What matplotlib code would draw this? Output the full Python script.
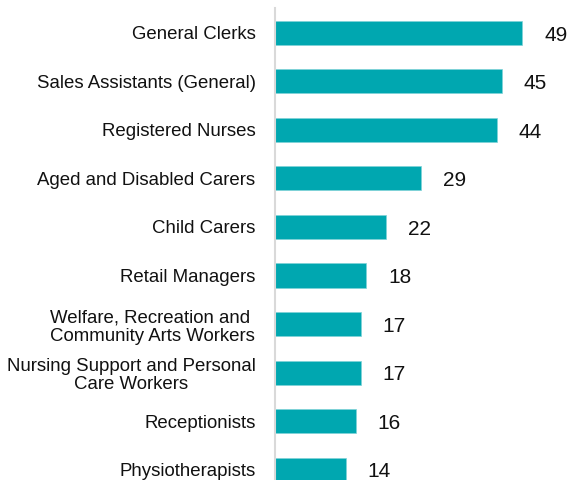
import numpy as np
import matplotlib
matplotlib.use('Agg')
import matplotlib.pyplot as plt

plt.rcParams['font.family'] = ['Liberation Sans', 'DejaVu Sans']

occupations = ['General Clerks', 'Sales Assistants (General)', 'Registered Nurses',
               'Aged and Disabled Carers', 'Child Carers', 'Retail Managers',
               'Welfare, Recreation and \nCommunity Arts Workers',
               'Nursing Support and Personal\nCare Workers',
               'Receptionists', 'Physiotherapists']
values = [49, 45, 44, 29, 22, 18, 17, 17, 16, 14]

teal = '#00A7B0'

fig = plt.figure(figsize=(5.7, 4.8), dpi=100)
# axes in pixel terms: left edge 275, top 8, bottom 480
ax = fig.add_axes([275 / 570, 0.0, 295 / 570, 472 / 480])

y = np.arange(len(values))
ax.barh(y, values, height=0.495, color=teal, edgecolor='#7fd3d7', linewidth=0.5)

for yi, v in zip(y, values):
    ax.text(v + 4.4, yi + 0.05, str(v), va='center', ha='left', fontsize=15, color='#111111')

ax.set_yticks(y)
ax.set_yticklabels(occupations, fontsize=13.4, multialignment='center',
                   color='#111111', linespacing=1.12)
ax.tick_params(axis='y', length=0, pad=14)
ax.set_xticks([])
ax.set_xlim(0, 295 / 5.04)
ax.set_ylim(9 + 0.216, -0.515)

for s in ['top', 'right', 'bottom']:
    ax.spines[s].set_visible(False)
ax.spines['left'].set_color('#d9d9d9')
ax.spines['left'].set_linewidth(1.5)

fig.savefig('out.png', dpi=100)
